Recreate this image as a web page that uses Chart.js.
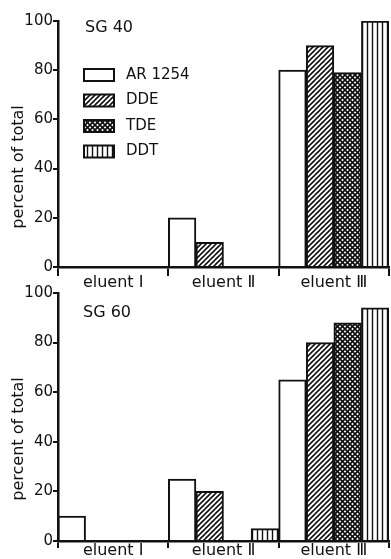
<!DOCTYPE html>
<html lang="en">
<head>
<meta charset="UTF-8">
<title>Eluent fractions SG 40 / SG 60</title>
<script src="https://cdn.jsdelivr.net/npm/chart.js@4.4.1/dist/chart.umd.min.js"></script>
<style>
  body { margin: 0; background: #fff; }
  .panel { position: absolute; left: 0; width: 391px; }
  #topPanel { top: 0; height: 291px; }
  #bottomPanel { top: 279px; height: 280px; }
</style>
</head>
<body>
<div class="panel" id="topPanel"><canvas id="sg40"></canvas></div>
<div class="panel" id="bottomPanel"><canvas id="sg60"></canvas></div>
<script>
// categories and series
const eluents = ['eluent \u2160', 'eluent \u2161', 'eluent \u2162'];
const compounds = ['AR 1254', 'DDE', 'TDE', 'DDT'];
const yTicks = [0, 20, 40, 60, 80, 100];

// SG 40 column, percent of total per eluent
const sg40AR = [0, 20, 80];
const sg40DDE = [0, 10, 90];
const sg40TDE = [0, 0, 79];
const sg40DDT = [0, 0, 100];

// SG 60 column
const sg60AR = [10, 25, 65];
const sg60DDE = [0, 20, 80];
const sg60TDE = [0, 0, 88];
const sg60DDT = [0, 5, 94];

const INK = '#111';
const FONT = '"DejaVu Sans", sans-serif';

// hatch fills built on a small tile
function makePattern(kind) {
  const s = 5;
  const c = document.createElement('canvas');
  c.width = s; c.height = s;
  const g = c.getContext('2d');
  g.fillStyle = '#fff';
  g.fillRect(0, 0, s, s);
  g.strokeStyle = INK;
  g.lineCap = 'square';
  function diag(dir) {
    g.beginPath();
    for (let k = -1; k <= 1; k++) {
      if (dir > 0) { g.moveTo(k * s, s); g.lineTo(k * s + s, 0); }
      else { g.moveTo(k * s, 0); g.lineTo(k * s + s, s); }
    }
    g.stroke();
  }
  if (kind === 'slash') { g.lineWidth = 1.6; diag(1); }
  if (kind === 'cross') { g.lineWidth = 1.7; diag(1); diag(-1); }
  if (kind === 'vert') {
    g.lineWidth = 1.4;
    g.beginPath(); g.moveTo(2.5, 0); g.lineTo(2.5, s); g.stroke();
  }
  return g.createPattern(c, 'repeat');
}

const fills = ['#fff', makePattern('slash'), makePattern('cross'), makePattern('vert')];

function datasets(series) {
  return series.map((vals, i) => ({
    label: compounds[i],
    data: vals,
    backgroundColor: fills[i],
    borderColor: INK,
    borderWidth: 2,
    borderSkipped: 'start',
    categoryPercentage: 1,
    barPercentage: 1
  }));
}

// panel label, rotated axis title and the optional key
const decor = {
  id: 'decor',
  afterDraw(chart, args, opts) {
    const ctx = chart.ctx;
    const a = chart.chartArea;
    ctx.save();
    ctx.fillStyle = INK;
    ctx.font = '16px ' + FONT;
    ctx.textBaseline = 'middle';
    ctx.textAlign = 'left';
    ctx.fillText(opts.title, a.left + opts.titleDx, a.top + opts.titleDy);

    ctx.save();
    ctx.translate(19, a.top + 146);
    ctx.rotate(-Math.PI / 2);
    ctx.textAlign = 'center';
    ctx.fillText('percent of total', 0, 0);
    ctx.restore();

    if (opts.key) {
      ctx.font = '15px ' + FONT;
      chart.data.datasets.forEach((ds, i) => {
        const cy = a.top + 54 + i * 25.5;
        const bx = a.left + 26;
        ctx.fillStyle = ds.backgroundColor;
        ctx.fillRect(bx, cy - 6, 30, 12);
        ctx.strokeStyle = INK;
        ctx.lineWidth = 2;
        ctx.strokeRect(bx, cy - 6, 30, 12);
        ctx.fillStyle = INK;
        ctx.fillText(ds.label, bx + 42, cy);
      });
    }
    ctx.restore();
  }
};

function makeChart(id, series, cfg) {
  return new Chart(document.getElementById(id), {
    type: 'bar',
    data: { labels: eluents, datasets: datasets(series) },
    plugins: [decor],
    options: {
      responsive: true,
      maintainAspectRatio: false,
      animation: false,
      devicePixelRatio: 1,
      layout: { padding: { top: cfg.padTop, right: 2, left: 0, bottom: 0 } },
      plugins: {
        legend: { display: false },
        tooltip: { enabled: false },
        decor: cfg.decor
      },
      scales: {
        x: {
          afterFit: s => { s.height = cfg.xHeight; },
          grid: { drawOnChartArea: false, offset: true, tickLength: cfg.tickLen, color: INK, lineWidth: 2 },
          border: { display: true, color: INK, width: 2.5 },
          ticks: { color: INK, padding: cfg.labelPad, font: { family: FONT, size: 16, lineHeight: 1 } }
        },
        y: {
          min: 0,
          max: 100,
          afterFit: s => { s.width = 58; },
          afterBuildTicks: s => { s.ticks = yTicks.map(v => ({ value: v })); },
          grid: { drawOnChartArea: false, tickLength: 5, color: INK, lineWidth: 2 },
          border: { display: true, color: INK, width: 2.5 },
          ticks: { color: INK, padding: 0, font: { family: FONT, size: 15 } }
        }
      }
    }
  });
}

makeChart('sg40', [sg40AR, sg40DDE, sg40TDE, sg40DDT], {
  padTop: 21, xHeight: 24, tickLen: 9, labelPad: -1,
  decor: { title: 'SG 40', titleDx: 27, titleDy: 7, key: true }
});

makeChart('sg60', [sg60AR, sg60DDE, sg60TDE, sg60DDT], {
  padTop: 14, xHeight: 18, tickLen: 7, labelPad: -5,
  decor: { title: 'SG 60', titleDx: 25, titleDy: 20, key: false }
});
</script>
</body>
</html>
